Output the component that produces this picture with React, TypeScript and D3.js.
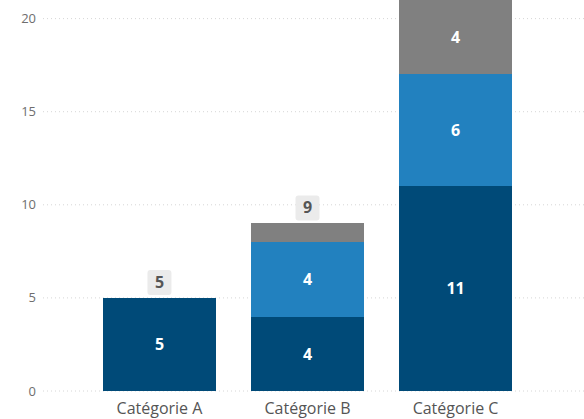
import React, { useRef, useEffect } from 'react';
import * as d3 from 'd3';

const categories = ['Catégorie A', 'Catégorie B', 'Catégorie C'];
const seriesKeys = ['s1', 's2', 's3'];
const seriesColors = ['#004a78', '#2281bf', '#808080'];
const s1Values = [5, 4, 11];
const s2Values = [0, 4, 6];
const s3Values = [0, 1, 4];
const yTicks = [0, 5, 10, 15, 20];

const WIDTH = 584;
const HEIGHT = 419;

const App: React.FC = () => {
  const svgRef = useRef<SVGSVGElement | null>(null);

  useEffect(() => {
    if (!svgRef.current) return;
    const svg = d3.select(svgRef.current);
    svg.selectAll('*').remove();

    const rows = categories.map((c, i) => ({
      category: c,
      s1: s1Values[i],
      s2: s2Values[i],
      s3: s3Values[i],
    }));

    const stacked = d3.stack<any>().keys(seriesKeys)(rows);

    const xScale = d3.scaleBand()
      .domain(categories)
      .range([43, 572])
      .paddingInner(0.2365)
      .paddingOuter(0.405);

    const yScale = d3.scaleLinear()
      .domain([0, 21])
      .range([391, 0]);

    // grid
    svg.append('g')
      .selectAll('line')
      .data(yTicks)
      .enter()
      .append('line')
      .attr('x1', 43)
      .attr('x2', WIDTH)
      .attr('y1', d => yScale(d))
      .attr('y2', d => yScale(d))
      .attr('stroke', '#d6d6d6')
      .attr('stroke-width', 1)
      .attr('stroke-dasharray', '1,3');

    // y axis labels
    svg.append('g')
      .selectAll('text')
      .data(yTicks)
      .enter()
      .append('text')
      .attr('x', 36)
      .attr('y', d => yScale(d))
      .attr('dy', '0.35em')
      .attr('text-anchor', 'end')
      .style('font-family', '"Open Sans", sans-serif')
      .style('font-size', '13px')
      .style('fill', '#6e6e6e')
      .text(d => String(d));

    // bars
    const layers = svg.append('g')
      .selectAll('g')
      .data(stacked)
      .enter()
      .append('g')
      .attr('fill', (_d, i) => seriesColors[i]);

    layers.selectAll('rect')
      .data(d => d.filter(p => p[1] - p[0] > 0))
      .enter()
      .append('rect')
      .attr('x', p => xScale(p.data.category) || 0)
      .attr('y', p => yScale(p[1]))
      .attr('width', xScale.bandwidth())
      .attr('height', p => yScale(p[0]) - yScale(p[1]))
      .attr('shape-rendering', 'crispEdges');

    // segment labels (small segments have none)
    layers.selectAll('text')
      .data(d => d.filter(p => p[1] - p[0] >= 2))
      .enter()
      .append('text')
      .attr('x', p => (xScale(p.data.category) || 0) + xScale.bandwidth() / 2)
      .attr('y', p => yScale((p[0] + p[1]) / 2))
      .attr('dy', '0.36em')
      .attr('text-anchor', 'middle')
      .style('font-family', '"Open Sans", sans-serif')
      .style('font-size', '16px')
      .style('font-weight', 'bold')
      .style('fill', '#fff')
      .text(p => String(p[1] - p[0]));

    // totals, only those that stay inside the plot
    const totals = rows
      .map(r => ({ category: r.category, total: r.s1 + r.s2 + r.s3 }))
      .filter(d => yScale(d.total) - 28 > 0);
    const tg = svg.append('g')
      .selectAll('g')
      .data(totals)
      .enter()
      .append('g')
      .attr('transform', d => `translate(${(xScale(d.category) || 0) + xScale.bandwidth() / 2}, ${yScale(d.total) - 16})`);

    tg.append('rect')
      .attr('x', -12)
      .attr('y', -12)
      .attr('width', 24)
      .attr('height', 25)
      .attr('rx', 3)
      .attr('fill', '#ebebeb');

    tg.append('text')
      .attr('y', 0)
      .attr('dy', '0.36em')
      .attr('text-anchor', 'middle')
      .style('font-family', '"Open Sans", sans-serif')
      .style('font-size', '16px')
      .style('font-weight', 'bold')
      .style('fill', '#555')
      .text(d => String(d.total));

    // category labels
    svg.append('g')
      .selectAll('text')
      .data(categories)
      .enter()
      .append('text')
      .attr('x', d => (xScale(d) || 0) + xScale.bandwidth() / 2)
      .attr('y', 408)
      .attr('dy', '0.35em')
      .attr('text-anchor', 'middle')
      .style('font-family', '"Open Sans", sans-serif')
      .style('font-size', '16px')
      .style('fill', '#555')
      .text(d => d);
  }, []);

  return (
    <>
      <style>{'body{margin:0}'}</style>
      <svg ref={svgRef} width={WIDTH} height={HEIGHT} style={{ display: 'block' }}></svg>
    </>
  );
};

export default App;
